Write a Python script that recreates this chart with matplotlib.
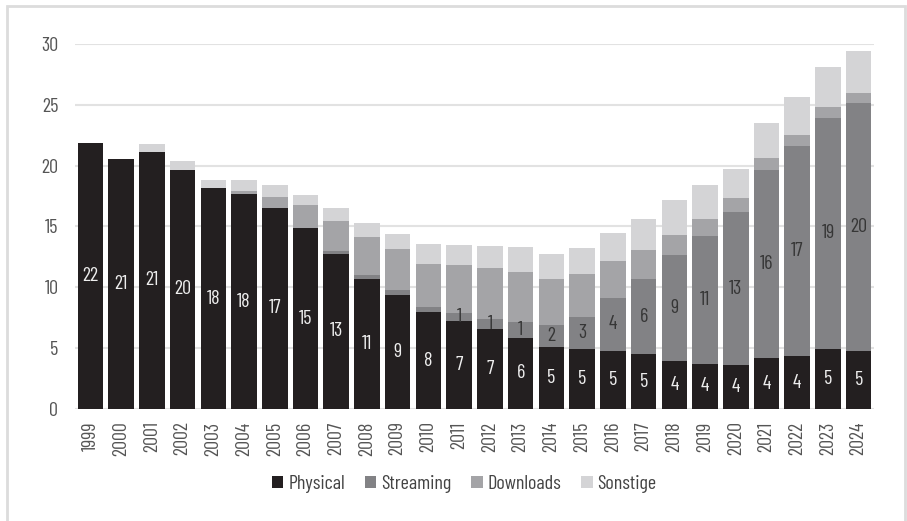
import numpy as np
import matplotlib
matplotlib.use('Agg')
import matplotlib.pyplot as plt
from matplotlib.patches import Rectangle

plt.rcParams['font.family'] = ['Barlow Condensed', 'DejaVu Sans']

# Umsatz nach Segment, 1999-2024
years = [str(y) for y in range(1999, 2025)]
physical = [21.85, 20.55, 21.15, 19.65, 18.15, 17.65, 16.55, 14.85, 12.75, 10.7,
            9.4, 7.95, 7.2, 6.55, 5.85, 5.1, 4.95, 4.8, 4.5, 3.97,
            3.7, 3.6, 4.15, 4.35, 4.95, 4.8]
streaming = [0, 0, 0, 0, 0, 0, 0, 0, 0.2, 0.3,
             0.35, 0.4, 0.65, 0.87, 1.26, 1.8, 2.6, 4.35, 6.2, 8.7,
             10.55, 12.6, 15.5, 17.3, 19.0, 20.35]
downloads = [0, 0, 0, 0, 0, 0.3, 0.9, 1.9, 2.5, 3.1,
             3.4, 3.6, 4.0, 4.2, 4.14, 3.8, 3.55, 3.0, 2.4, 1.6,
             1.4, 1.1, 0.95, 0.9, 0.85, 0.8]
sonstige = [0, 0, 0.6, 0.7, 0.7, 0.9, 0.93, 0.87, 1.1, 1.15,
            1.2, 1.6, 1.6, 1.8, 2.03, 2.05, 2.15, 2.35, 2.55, 2.9,
            2.8, 2.4, 2.9, 3.1, 3.3, 3.5]

c_phys = '#231f20'
c_stream = '#828285'
c_down = '#a4a4a7'
c_sonst = '#d4d4d6'

fig = plt.figure(figsize=(9.07, 5.21), dpi=100)
ax = fig.add_axes([0.0827, 0.215, 0.881, 0.7006])

x = np.arange(len(years))
phys = np.array(physical)
stream = np.array(streaming)
down = np.array(downloads)
sonst = np.array(sonstige)
w = 0.83

ax.bar(x, phys, w, color=c_phys, label='Physical', zorder=3)
ax.bar(x, stream, w, bottom=phys, color=c_stream, label='Streaming', zorder=3)
ax.bar(x, down, w, bottom=phys + stream, color=c_down, label='Downloads', zorder=3)
ax.bar(x, sonst, w, bottom=phys + stream + down, color=c_sonst, label='Sonstige', zorder=3)

def rnd(v):
    return int(np.floor(v + 0.5))

for i in range(len(years)):
    ax.text(x[i], phys[i] / 2, str(rnd(phys[i])), ha='center', va='center',
            color='#eeeeee', fontsize=14.5, zorder=4)
    if rnd(stream[i]) >= 1:
        ax.text(x[i], phys[i] + stream[i] / 2, str(rnd(stream[i])), ha='center',
                va='center', color='#363636', fontsize=14.5, zorder=4)

ax.set_xlim(-0.5, 25.5)
ax.set_ylim(0, 30)
ax.set_yticks([0, 5, 10, 15, 20, 25, 30])
ax.set_xticks(x)
ax.set_xticklabels(years, rotation=90)
ax.tick_params(axis='both', length=0, labelsize=14.5, colors='#555555')
ax.tick_params(axis='y', pad=12)
ax.tick_params(axis='x', pad=9)
ax.grid(axis='y', color='#e2e2e2', lw=1.5, zorder=0)
for s in ax.spines.values():
    s.set_visible(False)

fig.legend(loc='center', bbox_to_anchor=(0.512, 0.071), ncol=4, frameon=False,
           fontsize=14.5, handlelength=0.55, handleheight=0.55, handletextpad=0.25,
           columnspacing=1.0, labelcolor='#444444')

fig.patches.append(Rectangle((7 / 907, -0.02), 898 / 907, 1.02 - 6 / 521,
                             transform=fig.transFigure, fill=False,
                             edgecolor='#dcdcdc', lw=2))

fig.savefig('out.png', dpi=100)
